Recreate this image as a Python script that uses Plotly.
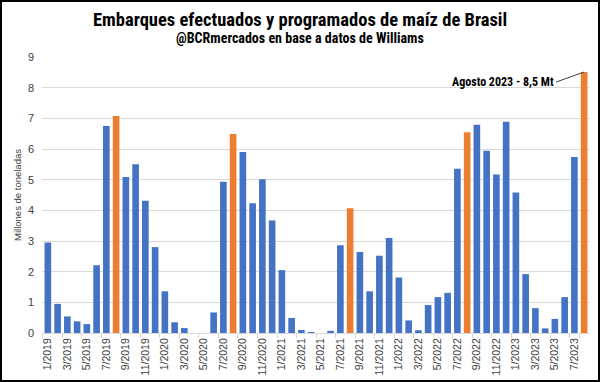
import plotly.graph_objects as go

months = [f"{m}/{y}" for y in range(2019, 2024) for m in range(1, 13)][:56]
values = [2.95, 0.95, 0.54, 0.38, 0.29, 2.21, 6.75, 7.08, 5.09, 5.50, 4.31, 2.80,
          1.36, 0.35, 0.16, 0.0, 0.0, 0.67, 4.93, 6.49, 5.90, 4.23, 5.01, 3.67,
          2.05, 0.49, 0.10, 0.03, 0.0, 0.07, 2.86, 4.07, 2.64, 1.36, 2.52, 3.10,
          1.81, 0.41, 0.09, 0.91, 1.17, 1.31, 5.36, 6.55, 6.79, 5.94, 5.17, 6.89,
          4.58, 1.92, 0.81, 0.15, 0.46, 1.17, 5.74, 8.51]
tick_labels = months[::2]
highlight = [m.startswith("8/") for m in months]
title_text = "Embarques efectuados y programados de maíz de Brasil"
subtitle_text = "@BCRmercados en base a datos de Williams"
annot_text = "Agosto 2023 - 8,5 Mt"

BLUE = "#4472C4"
ORANGE = "#ED7D31"
colors = [ORANGE if h else BLUE for h in highlight]

L, R, T, B = 42, 10, 57, 49
W, H = 600, 382
pw = W - L - R
ph = H - T - B

fig = go.Figure(go.Bar(x=months, y=values, marker_color=colors,
                       marker_line_width=0, width=0.68))

fig.update_layout(
    width=W, height=H,
    margin=dict(l=L, r=R, t=T, b=B, autoexpand=False),
    paper_bgcolor="white", plot_bgcolor="white",
    showlegend=False,
    font=dict(family="Liberation Sans", size=11, color="#404040"),
    xaxis=dict(
        type="category", tickvals=tick_labels, ticktext=tick_labels,
        tickangle=-90, tickfont=dict(size=10.5, color="#404040"),
        showline=True, linecolor="#d9d9d9", linewidth=1,
        ticks="outside", tickcolor="#d9d9d9", ticklen=4, tickson="boundaries",
        showgrid=False, range=[-0.6, 55.6], automargin=False,
    ),
    yaxis=dict(
        range=[0, 9], dtick=1, showgrid=True, gridcolor="#d9d9d9", gridwidth=1,
        zeroline=False, tickfont=dict(size=11, color="#404040"),
        title=dict(text="Millones de toneladas", font=dict(size=9.5, color="#404040"), standoff=4),
        ticks="", automargin=False, ticklabelstandoff=7,
    ),
)

title_font = "Liberation Sans Narrow, Roboto Condensed, Liberation Sans"
fig.add_annotation(xref="paper", yref="paper", x=(W / 2 - L) / pw, y=(H - B - 20) / ph,
                   text=f"<b>{title_text}</b>", showarrow=False, xanchor="center", yanchor="middle",
                   font=dict(family=title_font, size=18.5, color="black"))
fig.add_annotation(xref="paper", yref="paper", x=(W / 2 - L) / pw, y=(H - B - 38) / ph,
                   text=f"<b>{subtitle_text}</b>", showarrow=False, xanchor="center", yanchor="middle",
                   font=dict(family=title_font, size=14, color="black"))

fig.add_annotation(
    x=months[-1], y=values[-1], xref="x", yref="y",
    text=f"<b>{annot_text}</b>", showarrow=True, arrowhead=0,
    arrowwidth=1, arrowcolor="#404040", ax=-28, ay=10, xanchor="right",
    font=dict(family=title_font, size=12, color="black"),
)

fig.add_shape(type="rect", xref="paper", yref="paper",
              x0=(-L + 1) / pw, x1=(pw + R - 1) / pw,
              y0=(-B + 1) / ph, y1=(ph + T - 1) / ph,
              line=dict(color="black", width=2), layer="above")

fig.write_html("out.html", config={"displayModeBar": False})

with open("out.html", encoding="utf-8") as f:
    html = f.read()
html = html.replace("<head>", "<head><style>html,body{margin:0;padding:0;overflow:hidden;}</style>", 1)
with open("out.html", "w", encoding="utf-8") as f:
    f.write(html)
